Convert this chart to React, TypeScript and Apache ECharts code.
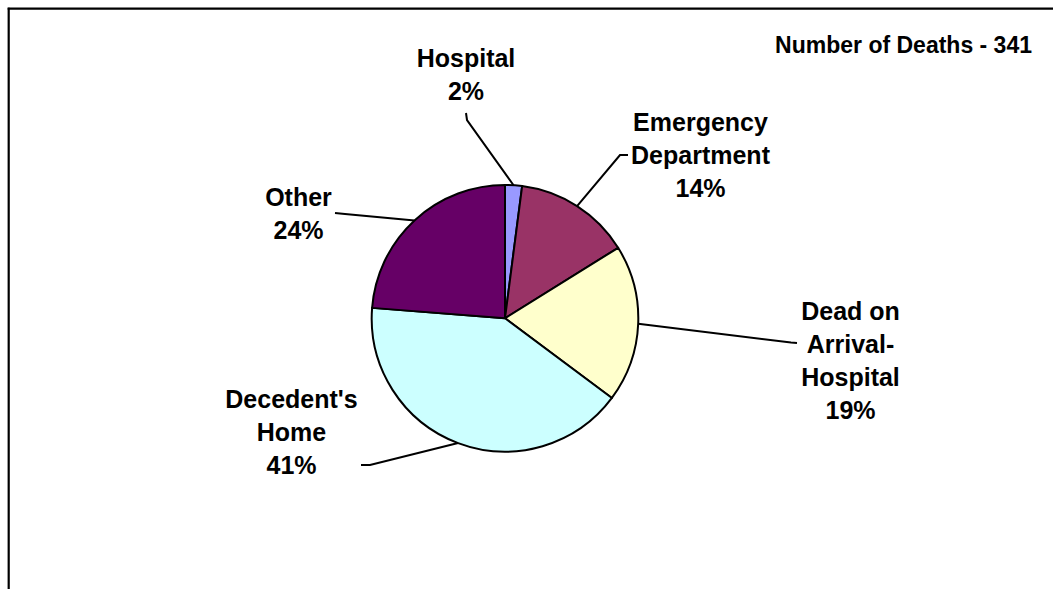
import React, { useEffect, useRef } from "react";
import * as echarts from "echarts";

// Place of death categories (label text, line-broken as in the chart)
const categories = [
  "Hospital",
  "Emergency\nDepartment",
  "Dead on\nArrival-\nHospital",
  "Decedent's\nHome",
  "Other",
];
// Number of deaths per category (total 341)
const deaths = [7, 48, 65, 140, 81];
const colors = ["#9999FF", "#993366", "#FFFFCC", "#CCFFFF", "#660066"];
const titleText = "Number of Deaths - 341";

// label layout (page pixels): label centre, leader bend, leader end
const labelCenters = [
  [466, 74.5],
  [700.5, 155],
  [850.5, 360],
  [291.5, 432],
  [298.5, 213.5],
];
const leaderBends = [
  [467, 120],
  [620, 155],
  [791, 342.5],
  [370, 465],
  [345, 214],
];
const leaderEnds = [
  [466, 113],
  [628, 155],
  [797, 343],
  [361, 465],
  [335, 213],
];

export default function App() {
  const ref = useRef<HTMLDivElement>(null);
  useEffect(() => {
    if (!ref.current) return;
    const chart = echarts.init(ref.current, null, { renderer: "svg" });
    const font = "'Liberation Sans', Arial, Helvetica, sans-serif";
    chart.setOption({
      animation: false,
      backgroundColor: "#ffffff",
      graphic: [
        {
          type: "line",
          silent: true,
          shape: { x1: 7.7, y1: 8.7, x2: 1060, y2: 8.7 },
          style: { stroke: "#000", lineWidth: 2.2 },
        },
        {
          type: "line",
          silent: true,
          shape: { x1: 8.7, y1: 7.7, x2: 8.7, y2: 600 },
          style: { stroke: "#000", lineWidth: 2.2 },
        },
        {
          type: "text",
          silent: true,
          x: 1032,
          y: 45,
          style: {
            text: titleText,
            align: "right",
            verticalAlign: "middle",
            fill: "#000",
            fontSize: 23,
            fontWeight: "bold",
            fontFamily: font,
          },
        },
      ],
      series: [
        {
          type: "pie",
          center: [505, 318.3],
          radius: 133.3,
          startAngle: 90,
          clockwise: true,
          percentPrecision: 0,
          avoidLabelOverlap: false,
          silent: true,
          data: categories.map((name, i) => ({
            name,
            value: deaths[i],
            itemStyle: { color: colors[i] },
          })),
          itemStyle: { borderColor: "#000", borderWidth: 2 },
          label: {
            show: true,
            position: "outside",
            formatter: "{b}\n{d}%",
            color: "#000",
            fontSize: 25,
            fontWeight: "bold",
            fontFamily: font,
            lineHeight: 33,
            align: "center",
          },
          labelLine: {
            show: true,
            length: 20,
            length2: 20,
            lineStyle: { color: "#000", width: 2 },
          },
          labelLayout: (params: any) => {
            const i = params.dataIndex;
            const p0 =
              params.labelLinePoints && params.labelLinePoints[0]
                ? params.labelLinePoints[0]
                : leaderBends[i];
            return {
              x: labelCenters[i][0],
              y: labelCenters[i][1],
              align: "center",
              verticalAlign: "middle",
              labelLinePoints: [p0, leaderBends[i], leaderEnds[i]],
            };
          },
        },
      ],
    });
    return () => chart.dispose();
  }, []);
  return (
    <div
      ref={ref}
      style={{ position: "fixed", left: 0, top: 0, width: 1053, height: 589 }}
    />
  );
}
